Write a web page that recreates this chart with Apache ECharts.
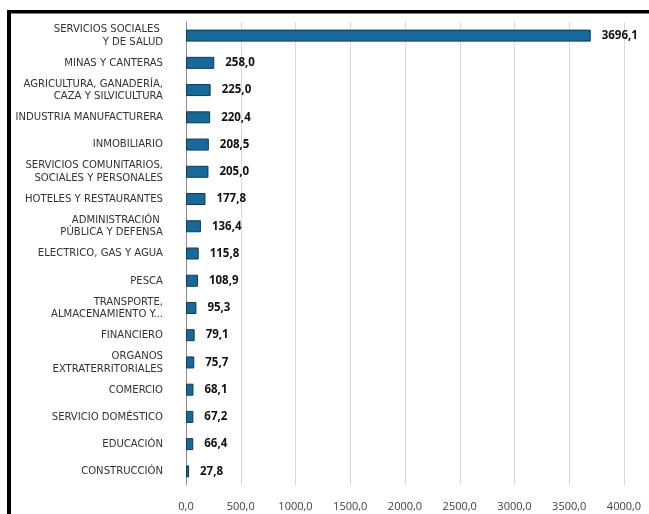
<!DOCTYPE html>
<html>
<head>
<meta charset="utf-8">
<script src="https://cdn.jsdelivr.net/npm/echarts@6/dist/echarts.min.js"></script>
<style>html,body{margin:0;padding:0;background:#fff}#c{width:649px;height:514px}</style>
</head>
<body>
<div id="c"></div>
<script>
var categories = [
  "SERVICIOS SOCIALES \nY DE SALUD",
  "MINAS Y CANTERAS",
  "AGRICULTURA, GANADERÍA,\nCAZA Y SILVICULTURA",
  "INDUSTRIA MANUFACTURERA",
  "INMOBILIARIO",
  "SERVICIOS COMUNITARIOS,\nSOCIALES Y PERSONALES",
  "HOTELES Y RESTAURANTES",
  "ADMINISTRACIÓN \nPÚBLICA Y DEFENSA",
  "ELECTRICO, GAS Y AGUA",
  "PESCA",
  "TRANSPORTE,\nALMACENAMIENTO Y...",
  "FINANCIERO",
  "ORGANOS\nEXTRATERRITORIALES",
  "COMERCIO",
  "SERVICIO DOMÉSTICO",
  "EDUCACIÓN",
  "CONSTRUCCIÓN"
];
var values = [3696.1, 258.0, 225.0, 220.4, 208.5, 205.0, 177.8, 136.4, 115.8, 108.9, 95.3, 79.1, 75.7, 68.1, 67.2, 66.4, 27.8];
var axisMin = 0, axisMax = 4000, axisStep = 500;

function fmt(v){ return v.toFixed(1).replace('.', ','); }

var chart = echarts.init(document.getElementById('c'), null, {renderer:'canvas'});
chart.setOption({
  animation: false,
  backgroundColor: '#fff',
  grid: {left: 186, right: 25, top: 22, bottom: 29, containLabel: false, outerBoundsMode: 'none'},
  xAxis: {
    type: 'value', min: axisMin, max: axisMax, interval: axisStep,
    axisLine: {show: false}, axisTick: {show: false},
    splitLine: {show: true, lineStyle: {color: '#d9d9d9', width: 1}},
    axisLabel: {formatter: fmt, color: '#404040', fontSize: 11, fontFamily: 'Open Sans', margin: 16}
  },
  yAxis: {
    type: 'category', data: categories, inverse: true,
    axisLine: {show: true, lineStyle: {color: '#8c8c8c', width: 1}},
    axisTick: {show: false},
    axisLabel: {color: '#333', fontSize: 11.2, fontFamily: '"DejaVu Sans Condensed", "DejaVu Sans", sans-serif', margin: 23, lineHeight: 12.5, align: 'right'}
  },
  series: [{
    type: 'bar', data: values, barWidth: 12,
    itemStyle: {color: '#17699a', borderColor: '#0c3a5a', borderWidth: 1},
    label: {show: true, position: 'right', distance: 11, formatter: function(p){return fmt(p.value);},
      color: '#111', fontWeight: 'bold', fontSize: 11.5, fontFamily: 'Open Sans'}
  }],
  graphic: [
    {type: 'rect', shape: {x: 7, y: 10, width: 642, height: 3.5}, style: {fill: '#000'}},
    {type: 'rect', shape: {x: 7, y: 10, width: 4, height: 504}, style: {fill: '#000'}}
  ]
});
</script>
</body>
</html>
